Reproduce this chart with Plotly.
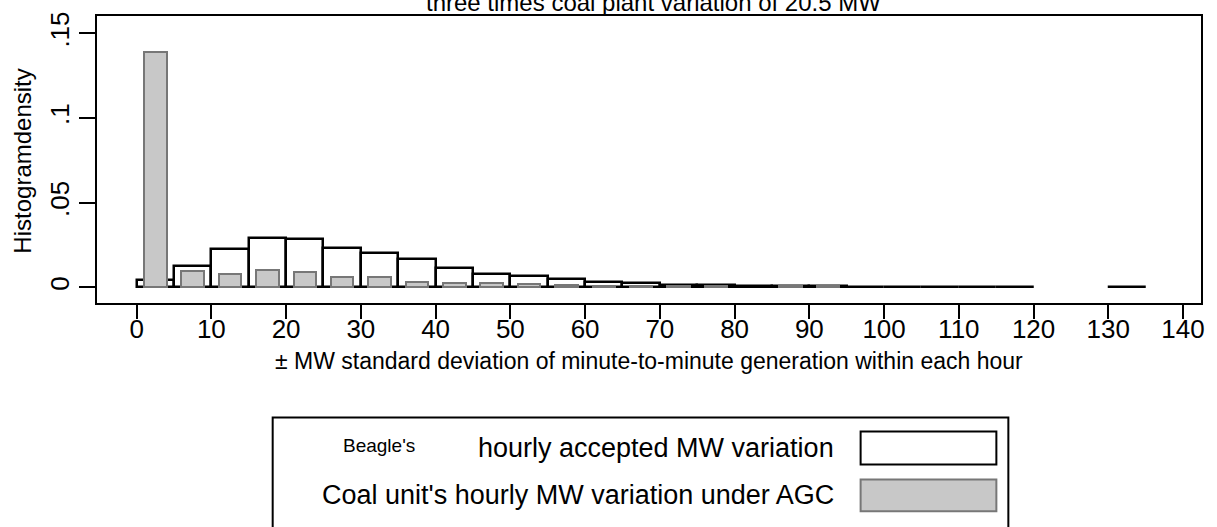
import plotly.graph_objects as go

# ---- data ----
bin_width = 5
bin_start = [0, 5, 10, 15, 20, 25, 30, 35, 40, 45, 50, 55, 60, 65, 70, 75,
             80, 85, 90, 95, 100, 105, 110, 115, 120, 125, 130]
beagle_density = [0.0045, 0.0129, 0.0228, 0.0292, 0.0285, 0.0231, 0.0205, 0.0166,
                  0.0116, 0.0079, 0.0068, 0.0049, 0.0031, 0.0025, 0.0017, 0.0016,
                  0.0008, 0.0007, 0.0006, 0.0005, 0.0005, 0.0004, 0.0004, 0.0004,
                  None, None, 0.0005]
coal_density = [0.1390, 0.0097, 0.0081, 0.0103, 0.0089, 0.0059, 0.0063, 0.0034,
                0.0025, 0.0025, 0.0019, 0.0015, 0.0010, 0.0008, 0.0007, 0.0007,
                None, 0.0006, 0.0006, None, None, None, None, None,
                None, None, None]
x_ticks = [0, 10, 20, 30, 40, 50, 60, 70, 80, 90, 100, 110, 120, 130, 140]
y_ticks = [0, 0.05, 0.10, 0.15]
y_tick_text = ["0", ".05", ".1", ".15"]

title_text = "three times coal plant variation of 20.5 MW"
x_title = "± MW standard deviation of minute-to-minute generation within each hour"
y_title = "Histogramdensity"
legend_beagle_small = "Beagle's"
legend_beagle = "hourly accepted MW variation"
legend_coal = "Coal unit's hourly MW variation under AGC"

FONT = "Liberation Sans, Arial, sans-serif"
W, H = 1217, 527
ML, MR, MT, MB = 97, 14, 15, 224
PW, PH = W - ML - MR, H - MT - MB


def px(x):
    return (x - ML) / PW


def py(y):
    return 1 - (y - MT) / PH


centers = [s + bin_width / 2 for s in bin_start]

fig = go.Figure()
fig.add_trace(go.Bar(
    x=centers, y=beagle_density, width=bin_width,
    marker=dict(color="white", line=dict(color="black", width=2.5)),
    showlegend=False,
))
fig.add_trace(go.Bar(
    x=centers, y=coal_density, width=bin_width * 0.6,
    marker=dict(color="#c8c8c8", line=dict(color="#777777", width=2)),
    showlegend=False,
))

fig.update_layout(
    width=W, height=H, autosize=False,
    margin=dict(l=ML, r=MR, t=MT, b=MB, pad=0),
    paper_bgcolor="white", plot_bgcolor="white",
    barmode="overlay", bargap=0,
    font=dict(family=FONT, color="black"),
    xaxis=dict(
        range=[-5.3, 142.4], tickvals=x_ticks, ticks="outside", ticklen=14,
        tickwidth=2, tickcolor="black", showline=True, linecolor="black",
        linewidth=2, mirror=True, showgrid=False, zeroline=False,
        ticklabelstandoff=-12,
        tickfont=dict(size=26, family=FONT),
    ),
    yaxis=dict(
        range=[-0.0092, 0.1603], tickvals=y_ticks, ticktext=y_tick_text,
        ticks="outside", ticklen=16, tickwidth=2, tickcolor="black",
        showline=True, linecolor="black", linewidth=2, mirror=True,
        showgrid=False, zeroline=False, tickangle=-90,
        tickfont=dict(size=26, family=FONT),
    ),
)

ann = []
ann.append(dict(text=title_text, x=px(655), y=py(17), xref="paper", yref="paper",
                xanchor="center", yanchor="bottom", showarrow=False,
                font=dict(size=24, family=FONT)))
ann.append(dict(text=x_title, x=px(650), y=py(361), xref="paper", yref="paper",
                xanchor="center", yanchor="middle", showarrow=False,
                font=dict(size=23, family=FONT)))
ann.append(dict(text=y_title, x=px(22), y=py(161), xref="paper", yref="paper",
                xanchor="center", yanchor="middle", showarrow=False, textangle=-90,
                font=dict(size=24, family=FONT)))
ann.append(dict(text=legend_beagle_small, x=px(380), y=py(446), xref="paper", yref="paper",
                xanchor="center", yanchor="middle", showarrow=False,
                font=dict(size=19, family=FONT)))
ann.append(dict(text=legend_beagle, x=px(837), y=py(449), xref="paper", yref="paper",
                xanchor="right", yanchor="middle", showarrow=False,
                font=dict(size=27, family=FONT)))
ann.append(dict(text=legend_coal, x=px(837), y=py(496), xref="paper", yref="paper",
                xanchor="right", yanchor="middle", showarrow=False,
                font=dict(size=27, family=FONT)))

shapes = []
shapes.append(dict(type="rect", xref="paper", yref="paper",
                   x0=px(273), x1=px(1010), y0=py(418), y1=py(545),
                   line=dict(color="black", width=2), fillcolor="rgba(0,0,0,0)"))
shapes.append(dict(type="rect", xref="paper", yref="paper",
                   x0=px(862), x1=px(998), y0=py(432), y1=py(465),
                   line=dict(color="black", width=2), fillcolor="white"))
shapes.append(dict(type="rect", xref="paper", yref="paper",
                   x0=px(862), x1=px(998), y0=py(480), y1=py(512),
                   line=dict(color="#777777", width=2), fillcolor="#c8c8c8"))

fig.update_layout(annotations=ann, shapes=shapes)
fig.write_html("out.html")
